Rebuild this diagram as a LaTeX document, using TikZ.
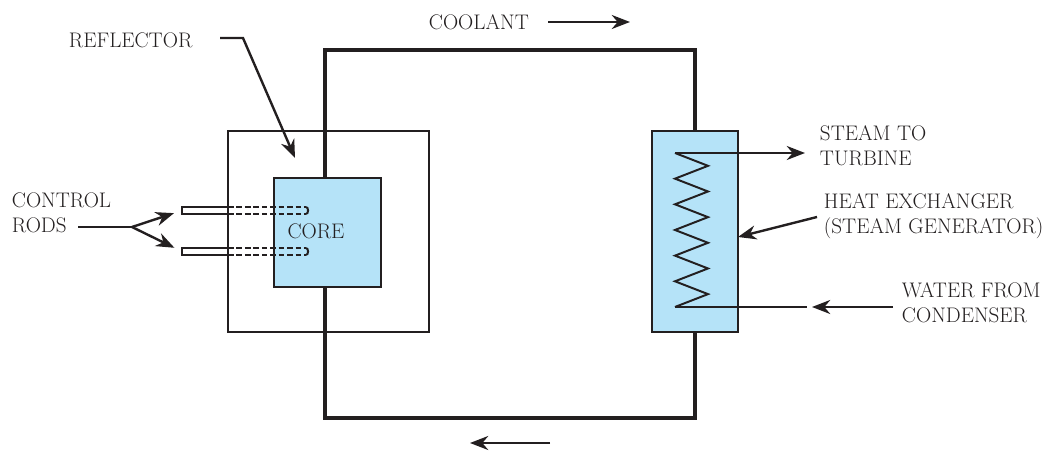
\documentclass[tikz,border=0pt]{standalone}
\usepackage{tikz}
\usetikzlibrary{arrows.meta}
\definecolor{ink}{HTML}{231F20}
\definecolor{water}{HTML}{B5E3F8}

\begin{document}
\begin{tikzpicture}[x=0.025cm, y=-0.025cm, >={Stealth[length=13pt,width=10pt]},
  every node/.style={font=\fontsize{15}{17.8}\selectfont, text=ink},
  box/.style={draw=ink, line width=1.8pt, inner sep=0pt},
  loop/.style={draw=ink, line width=2.8pt},
  pointer/.style={draw=ink, line width=1.7pt},
  rod/.style={draw=ink, line width=1.4pt}]
\useasboundingbox (0,0) rectangle (1060,451);

% reflector, core, heat exchanger
\node (refl) at (328.5,231.5) [box, minimum width=5.025cm, minimum height=5.025cm] {};
\node (core) at (327.5,232.5) [box, fill=water, minimum width=2.675cm, minimum height=2.725cm] {};
\node (corelab) at (316,231) {CORE};
\node (hx) at (695,231.5) [box, fill=water, minimum width=2.15cm, minimum height=5.025cm] {};

% coolant loop
\coordinate (tl) at (325,50);
\coordinate (tr) at (695,50);
\coordinate (bl) at (325,418);
\coordinate (br) at (695,418);
\draw[loop] (core.north -| tl) -- (tl) -- (tr) -- (hx.north);
\draw[loop] (core.south -| bl) -- (bl) -- (br) -- (hx.south);

% coil
\coordinate (cout) at (675,153);
\coordinate (cin) at (675,307);
\draw[rod] (cout) \foreach \i in {1,...,6} {-- (708,{153+(2*\i-1)*12.83}) -- (675,{153+2*\i*12.83})};
\coordinate (steam) at (805,153);
\draw[pointer,->] (cout) -- (steam);
\coordinate (wend) at (807,307);
\draw[pointer] (cin) -- (wend);
\coordinate (wstart) at (893,307);
\coordinate (wtip) at (812,307);
\draw[pointer,->] (wstart) -- (wtip);

% control rods
\foreach \y/\n in {207/1, 248/2} {
  \draw[rod] (228,\y) -- (182,\y) -- (182,\y+7) -- (228,\y+7);
  \draw[rod, dash pattern=on 4pt off 2pt] (228,\y) -- (306,\y) (228,\y+7) -- (306,\y+7);
  \draw[rod] (306,\y) to[out=0,in=0] (306,\y+7);
  \coordinate (rod\n) at (182,\y+3.5);
}

% labels
\node (rodlab) at (7,213) [anchor=west, align=left] {CONTROL\\RODS};
\coordinate (split) at (132,227);
\draw[pointer] (78,227) -- (split);
\draw[pointer,->,shorten >=6pt] (split) -- (rod1);
\draw[pointer,->,shorten >=6pt] (split) -- (rod2);

\node (refllab) at (64,40) [anchor=west] {REFLECTOR};
\coordinate (rstart) at (220,38);
\coordinate (rbend) at (243,38);
\coordinate (rtip) at (295,158);
\draw[pointer,->] (rstart) -- (rbend) -- (rtip);

\node (coollab) at (424,22) [anchor=west] {COOLANT};
\coordinate (ca) at (548,22);
\coordinate (cb) at (630,22);
\draw[pointer,->] (ca) -- (cb);
\coordinate (ra) at (550,443);
\coordinate (rb) at (470,443);
\draw[pointer,->] (ra) -- (rb);

\node (steamlab) at (815,145.5) [anchor=west, align=left] {STEAM TO\\TURBINE};
\node (hxlab) at (819,216.5) [anchor=west, align=left] {HEAT EXCHANGER\\(STEAM GENERATOR)};
\coordinate (hxa) at (817,217);
\coordinate (hxb) at (738,237);
\draw[pointer,->] (hxa) -- (hxb);
\node (waterlab) at (897,302.5) [anchor=west, align=left] {WATER FROM\\CONDENSER};
\end{tikzpicture}
\end{document}
